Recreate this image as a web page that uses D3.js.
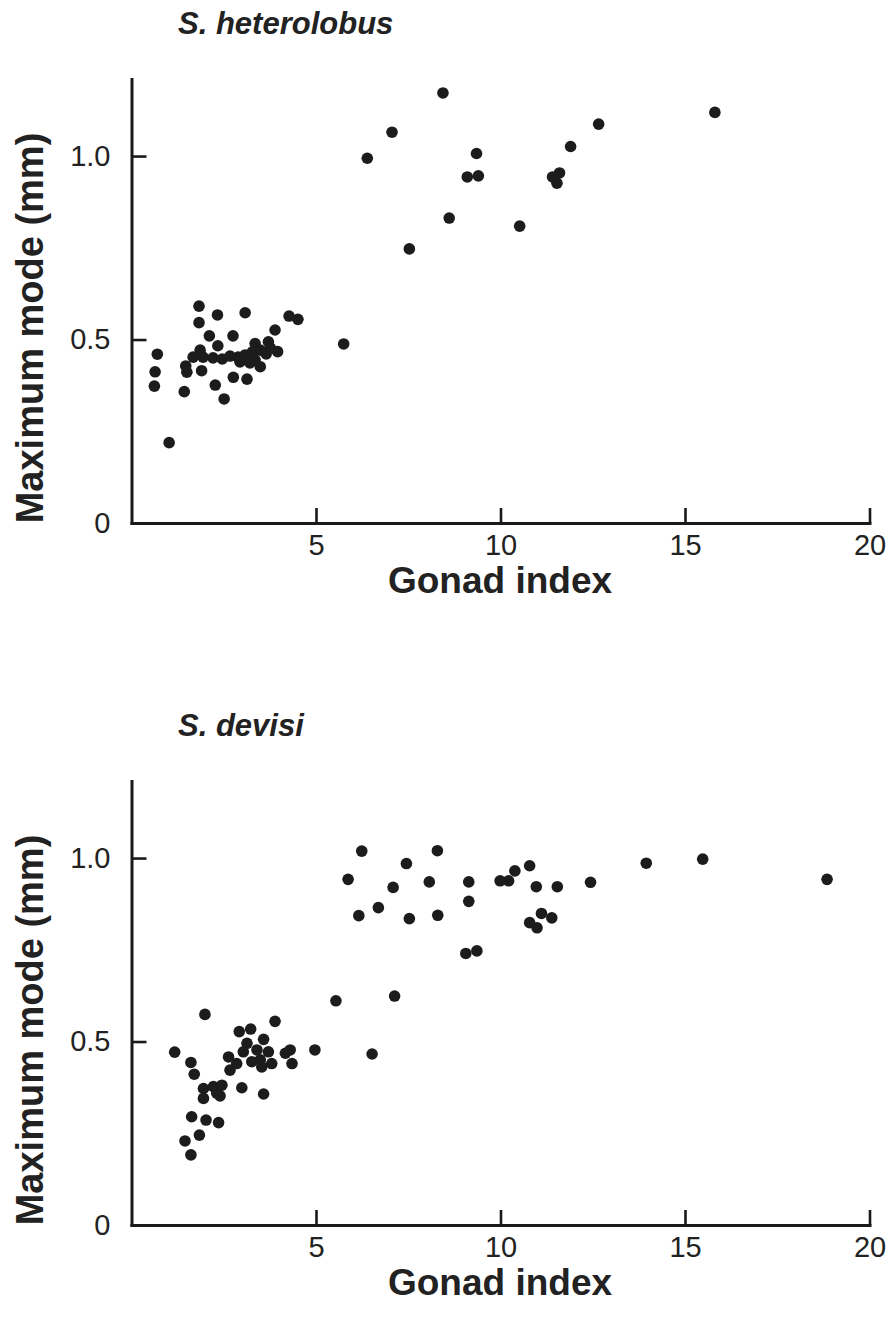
<!DOCTYPE html>
<html>
<head>
<meta charset="utf-8">
<script src="https://cdn.jsdelivr.net/npm/d3@7"></script>
<style>
  html, body { margin: 0; padding: 0; background: #fff; }
  svg { display: block; }
  .axis path, .axis line { stroke: #1a1a1a; }
  .axis text { font-family: "Liberation Sans", Arial, sans-serif; fill: #222; }
</style>
</head>
<body>
<svg id="chart"></svg>
<script>
// ------------------------------------------------------------
// Data: [gonad index, maximum mode (mm)]
// ------------------------------------------------------------
const heterolobusPoints = [
  [8.44, 1.172], [7.06, 1.065], [6.39, 0.994], [9.35, 1.007], [9.10, 0.943],
  [9.40, 0.946], [12.66, 1.087], [11.90, 1.026], [11.41, 0.943], [11.60, 0.954],
  [11.53, 0.926], [15.81, 1.119], [8.61, 0.831], [10.52, 0.809], [7.53, 0.747],
  [5.75, 0.488], [1.83, 0.591], [1.83, 0.546], [2.33, 0.567], [3.08, 0.573],
  [4.27, 0.564], [4.51, 0.555], [3.89, 0.526], [2.11, 0.510], [2.75, 0.510],
  [0.70, 0.460], [2.34, 0.483], [1.86, 0.471], [0.64, 0.412], [0.62, 0.373],
  [1.43, 0.358], [2.27, 0.376], [2.51, 0.338], [2.76, 0.397], [3.13, 0.392],
  [3.49, 0.426], [1.02, 0.219], [1.47, 0.428], [1.50, 0.411], [1.90, 0.415],
  [3.96, 0.467], [3.71, 0.494], [3.35, 0.489],
  [1.67, 0.452], [1.94, 0.452], [2.21, 0.450], [2.46, 0.447], [2.67, 0.455],
  [2.89, 0.452], [3.08, 0.458], [3.27, 0.466], [3.35, 0.444], [3.49, 0.471],
  [3.65, 0.461], [3.21, 0.436], [2.94, 0.439], [3.76, 0.477]
];

const devisiPoints = [
  [6.24, 1.019], [8.29, 1.020], [7.45, 0.985], [5.87, 0.942], [7.09, 0.920],
  [8.07, 0.935], [9.14, 0.935], [9.99, 0.938], [10.22, 0.938], [10.39, 0.965],
  [10.79, 0.979], [10.97, 0.922], [11.54, 0.922], [12.44, 0.934], [13.95, 0.986],
  [15.48, 0.997], [18.85, 0.942], [6.16, 0.843], [6.69, 0.865], [7.53, 0.835],
  [8.30, 0.844], [9.14, 0.882], [10.79, 0.824], [11.11, 0.849], [11.39, 0.837],
  [10.99, 0.810], [9.06, 0.740], [9.36, 0.747], [5.54, 0.611], [7.13, 0.624],
  [4.97, 0.477], [6.52, 0.466],
  [2.63, 0.458], [2.85, 0.440], [2.67, 0.422], [3.03, 0.472], [3.13, 0.495],
  [3.26, 0.445], [3.40, 0.477], [3.49, 0.450], [3.53, 0.431], [3.58, 0.506],
  [3.71, 0.472], [3.80, 0.440], [4.17, 0.468], [4.30, 0.477], [4.35, 0.440],
  [2.92, 0.527], [3.23, 0.534], [3.89, 0.555], [1.99, 0.574],
  [1.17, 0.471], [1.61, 0.443], [1.70, 0.411], [1.95, 0.372], [2.22, 0.377],
  [2.45, 0.381], [2.31, 0.359], [1.95, 0.345], [2.40, 0.352], [2.99, 0.374],
  [3.58, 0.357], [1.63, 0.295], [2.02, 0.286], [2.36, 0.279], [1.45, 0.229],
  [1.84, 0.245], [1.61, 0.191]
];

const panelTitles = ["S. heterolobus", "S. devisi"];
const xTicks = [5, 10, 15, 20];
const yTicks = [0, 0.5, 1.0];
const yTickLabels = ["0", "0.5", "1.0"];
const xLabel = "Gonad index";
const yLabel = "Maximum mode (mm)";

// ------------------------------------------------------------
const width = 891;
const height = 1323;

const svg = d3.select("#chart").attr("width", width).attr("height", height);

// one panel = one scatter plot; offsetY moves the whole thing down
function drawPanel(points, title, offsetY) {
  const g = svg.append("g").attr("transform", `translate(0,${offsetY})`);

  const x = d3.scaleLinear().domain([0, 20]).range([131.5, 869.5]);
  const y = d3.scaleLinear().domain([0, 1.21]).range([523, 79]);

  // x axis (ticks pointing up, into the plot)
  const xAxis = d3.axisBottom(x)
    .tickValues(xTicks)
    .tickSizeInner(-15)
    .tickSizeOuter(0)
    .tickPadding(11)
    .tickFormat(d3.format("d"));

  g.append("g")
    .attr("class", "axis")
    .attr("transform", `translate(0,${y(0)})`)
    .call(xAxis);

  // y axis (ticks pointing right)
  const yAxis = d3.axisLeft(y)
    .tickValues(yTicks)
    .tickSizeInner(-15)
    .tickSizeOuter(0)
    .tickPadding(21)
    .tickFormat((d, i) => yTickLabels[i]);

  g.append("g")
    .attr("class", "axis")
    .attr("transform", `translate(${x(0)},0)`)
    .call(yAxis);

  g.selectAll(".axis path").attr("stroke-width", 3).attr("stroke-linecap", "square");
  g.selectAll(".axis line").attr("stroke-width", 2.6);
  g.selectAll(".axis text").attr("font-size", 29);

  // points
  g.selectAll("circle")
    .data(points)
    .enter()
    .append("circle")
    .attr("cx", (d) => x(d[0]))
    .attr("cy", (d) => y(d[1]))
    .attr("r", 5.8)
    .attr("fill", "#1c1c1c");

  // panel title (italic species name)
  g.append("text")
    .attr("x", 178)
    .attr("y", 34)
    .attr("font-family", "Liberation Sans, Arial, sans-serif")
    .attr("font-size", 31)
    .attr("font-weight", "bold")
    .attr("font-style", "italic")
    .attr("fill", "#222")
    .text(title);

  // axis titles
  g.append("text")
    .attr("x", 500)
    .attr("y", 593)
    .attr("text-anchor", "middle")
    .attr("font-family", "Liberation Sans, Arial, sans-serif")
    .attr("font-size", 37)
    .attr("font-weight", "bold")
    .attr("fill", "#222")
    .text(xLabel);

  g.append("text")
    .attr("transform", "translate(43,328) rotate(-90)")
    .attr("text-anchor", "middle")
    .attr("font-family", "Liberation Sans, Arial, sans-serif")
    .attr("font-size", 38)
    .attr("font-weight", "bold")
    .attr("fill", "#222")
    .text(yLabel);
}

drawPanel(heterolobusPoints, panelTitles[0], 0);
drawPanel(devisiPoints, panelTitles[1], 702);
</script>
</body>
</html>
